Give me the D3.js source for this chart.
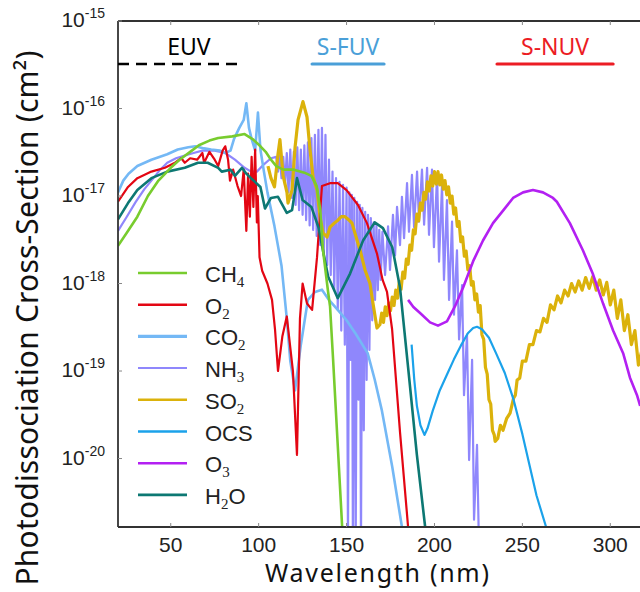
<!DOCTYPE html>
<html>
<head>
<meta charset="utf-8">
<script src="https://cdn.jsdelivr.net/npm/d3@7"></script>
<style>
  body { margin: 0; background: #fff; }
  svg { display: block; }
</style>
</head>
<body>
<svg id="chart" width="640" height="592"></svg>
<script>
// wavelength (nm), cross-section (cm^2)
const ch4 = [[20,2.7e-18],[25,3.8e-18],[31,5.8e-18],[37,1.0e-17],[43,1.5e-17],[50,2.1e-17],[55,2.6e-17],[62,3.3e-17],[66,3.8e-17],[72,4.3e-17],[77,4.6e-17],[85,4.8e-17],[92,5.1e-17],[97,4.4e-17],[101,3.7e-17],[104,3.2e-17],[107,2.6e-17],[110,2.2e-17],[114,2.0e-17],[120,2.0e-17],[126,1.85e-17],[130,1.7e-17],[133,1.3e-17],[135,7e-18],[136.6,2.4e-18],[139.5,8e-19],[140.6,5.5e-19],[142.3,1.4e-19],[145,1.4e-20],[147.5,1.65e-21],[148,1e-21]];

const o2 = [[20,8.6e-18],[25.7,1.27e-17],[31,1.6e-17],[39,1.9e-17],[46.7,2.1e-17],[52.4,2.4e-17],[56,2.7e-17],[58,2.4e-17],[61,2.7e-17],[65,2.6e-17],[68,3.1e-17],[69,2.4e-17],[72,3.2e-17],[75,2.6e-17],[77,2.2e-17],[79.5,3.3e-17],[81,3.7e-17],[82.6,2.6e-17],[83.7,1.5e-17],[85.5,2.0e-17],[88,1.3e-17],[90,1.0e-17],[91.5,2.0e-17],[93,4e-18],[94,1.8e-17],[95,5.8e-18],[96,2.8e-17],[97,7.5e-18],[98,3.4e-17],[99,5e-18],[99.5,1e-17],[100.5,2e-18],[102,1.4e-18],[105,1.0e-18],[107.6,6.5e-19],[109.3,3e-19],[111,1e-19],[113.5,2.5e-19],[116,4.2e-19],[119.5,1e-19],[121.8,1.1e-20],[123.5,4e-19],[125,1e-18],[127.5,5.9e-19],[130.4,5e-19],[133.2,2e-18],[136,1.3e-17],[140.6,1.4e-17],[145,1.4e-17],[150,1.17e-17],[156.5,7.9e-18],[161.6,4.9e-18],[167.3,2.2e-18],[170.5,1.1e-18],[173,8e-19],[175.9,3e-19],[180.4,2e-20],[185,1.65e-21],[185.5,1e-21]];

const co2 = [[20,1.1e-17],[23,1.5e-17],[26,1.8e-17],[31,2.2e-17],[39,2.6e-17],[48,3e-17],[54,3.4e-17],[60,3.6e-17],[64,3.7e-17],[69,3.5e-17],[73,3.4e-17],[78,3.3e-17],[81,3.1e-17],[84,3.3e-17],[86,4.5e-17],[89,6e-17],[91.5,7.4e-17],[93,1.15e-16],[94.5,6e-17],[96,4.5e-17],[98,3.3e-17],[99.6,9e-17],[101,3.4e-17],[103,1.9e-17],[105,1.1e-17],[109,4.5e-18],[113,1.6e-18],[116,4e-19],[118,1.3e-19],[120.7,6e-20],[124,2e-19],[128,6.5e-19],[132,8e-19],[136,8.5e-19],[140,6.5e-19],[145,5e-19],[150,3.8e-19],[155,2.7e-19],[162,1.6e-19],[166,8e-20],[170,3.6e-20],[176,8e-21],[181.5,1.65e-21],[182,1e-21]];

const nh3 = [[20,4e-18],[25,5.8e-18],[30,8.5e-18],[35,1.2e-17],[39,1.5e-17],[44,2e-17],[48,2.4e-17],[53,2.7e-17],[58,2.9e-17],[63,3.1e-17],[68,3.3e-17],[75,3.3e-17],[81,3.1e-17],[86.5,2.6e-17],[92,2.1e-17],[95.7,1.9e-17],[99,1.9e-17],[103,2.3e-17],[107,2.7e-17],[110,2.8e-17],
  [111,1.9e-17],[112,2.9e-17],[113,1.6e-17],[114,2.8e-17],[115,1.34e-17],[116,3.1e-17],[117,1.1e-17],[118,3.4e-17],[119,9.5e-18],[120,3.2e-17],[121,7.9e-18],[122,3.6e-17],[123,6.9e-18],[124,3.4e-17],[125,6.1e-18],[126,3.8e-17],[127,5.3e-18],[128,4.1e-17],[129,4.6e-18],[130,4.6e-17],[131,4.1e-18],[132,5.0e-17],[133,3.5e-18],[134,5.7e-17],[135,2.75e-18],[136,6e-17],[137,2.1e-18],[138,5e-17],[139,1.63e-18],[140,2.6e-17],[141,1.25e-18],[142,1.9e-17],[143,8.4e-19],[144,1.6e-17],[145,5e-19],[146,1.45e-17],[147,2.9e-19],[148,1.34e-17],[149,2e-19],[150,1.25e-17],[150.8,1e-21],[151.6,1.1e-17],[152.4,1.34e-19],[153,1.03e-17],[153.6,1e-21],[154.4,9.5e-18],[155.2,1e-21],[156,8.6e-18],[156.8,4.7e-20],[157.5,7.9e-18],[158.2,1e-21],[159,7.3e-18],[159.8,2.1e-20],[160.6,6.6e-18],[161.4,7.9e-20],[162.2,6.1e-18],[163,1.74e-19],[163.8,5.6e-18],[164.6,3.8e-19],[165.4,5e-18],[166.2,6.5e-19],[167,4.6e-18],[167.8,8.4e-19],[168.6,4.1e-18],[169.4,1.1e-18],[170.4,3.9e-18],
  [171.9,1.25e-18],[173.6,4.5e-18],[174.7,1.43e-18],[176.4,6.1e-18],[177.6,2.1e-18],[178.7,7.5e-18],[180.4,2.75e-18],[181.5,9.8e-18],[182.7,3.3e-18],[184.4,1.4e-17],[185.5,3.9e-18],[187.2,1.74e-17],[188.4,4.4e-18],[190.1,1.9e-17],[191.2,5.1e-18],[192.9,2.0e-17],[194.1,4.7e-18],[195.8,2.1e-17],[196.9,3.6e-18],[198.6,2.0e-17],[199.7,2.6e-18],[201.5,1.74e-17],[202.6,1.78e-18],[204.3,1.34e-17],[205.4,1.1e-18],[207.1,9e-18],[208.3,6.5e-19],[210,5.1e-18],[211.1,4.4e-19],[212.8,2.4e-18],[214,2.3e-19],[215.7,9.6e-19],[216.8,5.3e-20],[218.5,2.6e-19],[219.7,9.6e-21],[221.4,1.34e-19],[222.5,2e-21],[224.2,1.43e-20],[225.3,1e-21]];

const so2 = [[105.3,2.2e-17],[107,1.6e-17],[109,1.27e-17],[111,3e-17],[112.1,4.4e-17],[113.9,1.7e-17],[116.1,1.1e-17],[116.7,8.3e-18],[119,1.17e-17],[120.7,3.6e-17],[122.4,7.4e-17],[125.2,1.2e-16],[127.5,8e-17],[129.2,3.4e-17],[130.9,1.66e-17],[133.2,1.17e-17],[134.9,5.8e-18],[136.6,3.8e-18],[138.9,3.4e-18],[140.6,4.4e-18],[143,4.9e-18],[145.1,5.3e-18],[147,5.8e-18],[149.1,5.8e-18],[151,5.4e-18],[153.1,4.9e-18],[156,3.1e-18],[157.7,2.4e-18],[160.5,1.43e-18],[163.3,1e-18],[165,6e-19],[167.3,3.1e-19],[169,3.4e-19],
  [170,4.6e-19],[171,3.6e-19],[172,5.4e-19],[173,4.3e-19],[174,6e-19],[175,4.9e-19],[176,7e-19],[177,5.6e-19],[178,8.4e-19],[179,6.8e-19],[180,1.05e-18],[181,8.6e-19],[182,1.35e-18],[183,1.15e-18],[184,1.9e-18],[185,1.66e-18],[186,2.75e-18],[187,2.4e-18],[188,4.1e-18],[189,3.7e-18],[190,6.2e-18],[191,5.2e-18],[192,8.3e-18],[193,6.9e-18],[194,1.1e-17],[195,9.2e-18],[196,1.45e-17],[197,1.14e-17],[198,1.7e-17],[199,1.3e-17],[200,1.9e-17],[201,1.37e-17],[202,1.9e-17],[203,1.34e-17],[204,1.74e-17],[205,1.2e-17],[206,1.5e-17],[207,1.03e-17],[208,1.27e-17],[209,8.3e-18],[210,1e-17],[211,6.2e-18],[212,7.3e-18],[213,4.5e-18],[214,5.1e-18],[215,3e-18],[216,3.4e-18],[217,2.05e-18],[218,2.35e-18],[219,1.43e-18],[220,1.6e-18],[221,9.6e-19],[222,1.05e-18],[223,6.5e-19],[224,7.6e-19],[225,4.7e-19],[226,5.6e-19],[227,2.6e-19],[228,2.3e-19],[229,1.1e-19],[230,9.2e-20],[231,4.7e-20],[232,4.2e-20],[233,2.1e-20],[234,1.86e-20],[234.5,1.57e-20],
  [236,1.7e-20],[237.5,2.4e-20],[239,2.1e-20],[241,2.85e-20],[243,3.3e-20],[245,4.9e-20],[246,5.3e-20],[247,7.9e-20],[248.5,8.3e-20],[250,1.3e-19],[252,1.3e-19],[254,2e-19],[256,2e-19],[258,2.9e-19],[260,2.8e-19],[262,4e-19],[264,3.6e-19],[266,5.7e-19],[268,5e-19],[270,7.2e-19],[272,6e-19],[274,8.4e-19],[276,7.2e-19],[278,1e-18],[280,8e-19],[282,1.07e-18],[284,8.4e-19],[286,1.17e-18],[288,8.8e-19],[290,1.2e-18],[292,8.4e-19],[294,1.1e-18],[296,7.4e-19],[298,1.03e-18],[300,5.7e-19],[302,8.4e-19],[304,4e-19],[306,6.5e-19],[308,2.9e-19],[310,4.4e-19],[312,2e-19],[314,2.9e-19],[316,1.17e-19],[318,1.74e-19]];

const ocs = [[187,2e-19],[188.5,8e-20],[190,4e-20],[192,2.4e-20],[194.3,1.86e-20],[196,2.2e-20],[199,3.5e-20],[203,6e-20],[207,9e-20],[211,1.35e-19],[215,1.95e-19],[219,2.7e-19],[222,3.1e-19],[224.2,3.2e-19],[227,3e-19],[231,2.4e-19],[235,1.6e-19],[240,9.5e-20],[245,4.7e-20],[250,1.9e-20],[254,8.5e-21],[258,3.8e-21],[263.5,1.65e-21],[264,1e-21]];

const o3 = [[185,6.5e-19],[188,5.4e-19],[191.8,4.6e-19],[197.5,3.6e-19],[202,3.3e-19],[207.1,3.7e-19],[211.7,5.5e-19],[216.3,9e-19],[222,1.8e-18],[227.6,3.1e-18],[233.3,4.9e-18],[239,6.8e-18],[244.7,9.5e-18],[250.4,1.1e-17],[256,1.17e-17],[261.7,1.1e-17],[267.4,9.5e-18],[269.6,8.6e-18],[277,4.9e-18],[284.4,2.4e-18],[290,1.3e-18],[295.9,5.9e-19],[301.6,2.9e-19],[307.3,1.6e-19],[311.2,8.4e-20],[315.2,5.3e-20],[317,4e-20]];

const h2o = [[20,5.4e-18],[25.7,8.3e-18],[31,1.17e-17],[39,1.6e-17],[48,1.9e-17],[58,2.1e-17],[65.5,2.4e-17],[71,2.4e-17],[77,2.1e-17],[79,1.9e-17],[84,2.0e-17],[86.5,1.7e-17],[90.5,2.1e-17],[93,1.8e-17],[95.6,1.6e-17],[101,1.27e-17],[103.6,7.2e-18],[107,9.5e-18],[111,9.8e-18],[116,6.4e-18],[119,6.9e-18],[121.8,1.6e-17],[125,9e-18],[130,7.5e-18],[134,4.4e-18],[139.5,1.2e-18],[145,6.8e-19],[152,1.3e-18],[159.4,3.1e-18],[166,5e-18],[170.7,4.3e-18],[176,2.6e-18],[180.4,9e-19],[185,1.1e-19],[190,1.1e-20],[194.7,1.65e-21],[195,1e-21]];

// legend order, labels split into base / subscript / tail
const legendNames = [["CH", "4"], ["O", "2"], ["CO", "2"], ["NH", "3"], ["SO", "2"], ["OCS", ""], ["O", "3"], ["H", "2", "O"]];
const yTickExps = [-15, -16, -17, -18, -19, -20];
const xTicks = [50, 100, 150, 200, 250, 300];
// spectral regions marked along the top (nm)
const bandLabels = ["EUV", "S-FUV", "S-NUV"];
const bandFrom = [20, 130.4, 235.6];
const bandTo = [90.5, 171.3, 301.6];

const series = [
  { data: nh3, color: "#8f87fc", width: 2.2 },
  { data: so2, color: "#dbb20b", width: 3.2 },
  { data: co2, color: "#74b8f5", width: 2.6 },
  { data: o2, color: "#e30613", width: 2.2 },
  { data: ocs, color: "#1ba2ea", width: 2.2 },
  { data: o3, color: "#b320f2", width: 2.6 },
  { data: h2o, color: "#0d7873", width: 2.6 },
  { data: ch4, color: "#78cc2e", width: 2.6 },
];
const legendColors = ["#78cc2e", "#e30613", "#74b8f5", "#8f87fc", "#dbb20b", "#1ba2ea", "#b320f2", "#0d7873"];
const legendWidths = [2.6, 2.4, 3.2, 2, 2.4, 2.4, 2.6, 2.8];
const bandColors = ["#000", "#4a9fd8", "#ec1c24"];

const svg = d3.select("#chart");
const plot = { left: 118, right: 640, top: 21, bottom: 527 };

const x = d3.scaleLinear().domain([20, 316.9]).range([plot.left, plot.right]);
const y = d3.scaleLog().domain([1.65e-21, 1e-15]).range([plot.bottom, plot.top]);

svg.append("defs").append("clipPath").attr("id", "clip")
  .append("rect")
  .attr("x", plot.left).attr("y", plot.top)
  .attr("width", plot.right - plot.left).attr("height", plot.bottom - plot.top);

const line = d3.line().x((d) => x(d[0])).y((d) => y(Math.max(d[1], 1e-22)));

const curves = svg.append("g").attr("clip-path", "url(#clip)");
series.forEach((s) => {
  curves.append("path")
    .datum(s.data)
    .attr("fill", "none")
    .attr("stroke", s.color)
    .attr("stroke-width", s.width)
    .attr("stroke-linejoin", "round")
    .attr("d", line);
});

// axes frame (right side is cut off in the original)
const axisColor = "#333";
[[plot.left, plot.top, plot.right, plot.top],
 [plot.left, plot.bottom, plot.right, plot.bottom],
 [plot.left, plot.top, plot.left, plot.bottom]].forEach((c) => {
  svg.append("line").attr("x1", c[0]).attr("y1", c[1]).attr("x2", c[2]).attr("y2", c[3])
    .attr("stroke", axisColor).attr("stroke-width", 1.8);
});

// x ticks (inward, top and bottom) and labels
const xg = svg.append("g").attr("font-family", "'Liberation Sans', Arial, sans-serif").attr("font-size", 21).attr("fill", "#222");
xTicks.forEach((t) => {
  [plot.top, plot.bottom].forEach((yy) => {
    svg.append("line").attr("x1", x(t)).attr("x2", x(t))
      .attr("y1", yy).attr("y2", yy === plot.top ? yy + 4 : yy - 4)
      .attr("stroke", "#888").attr("stroke-width", 1);
  });
  xg.append("text").attr("x", x(t)).attr("y", 552).attr("text-anchor", "middle").text(t);
});

// y ticks and labels
const yg = svg.append("g").attr("font-family", "'Liberation Sans', Arial, sans-serif").attr("fill", "#222");
yTickExps.forEach((e) => {
  const yy = y(Math.pow(10, e));
  svg.append("line").attr("x1", plot.left).attr("x2", plot.left + 4).attr("y1", yy).attr("y2", yy)
    .attr("stroke", "#888").attr("stroke-width", 1);
  const t = yg.append("text").attr("x", 105).attr("y", yy + 6).attr("text-anchor", "end");
  t.append("tspan").attr("font-size", 21).text("10");
  t.append("tspan").attr("font-size", 14).attr("dy", -9).text(e);
});

// axis titles
svg.append("text")
  .attr("x", 377).attr("y", 582)
  .attr("text-anchor", "middle")
  .attr("font-family", "'Noto Sans', sans-serif")
  .attr("font-size", 25)
  .attr("textLength", 224)
  .attr("lengthAdjust", "spacing")
  .attr("fill", "#111")
  .text("Wavelength (nm)");

svg.append("text")
  .attr("transform", "translate(38,318) rotate(-90)")
  .attr("text-anchor", "middle")
  .attr("font-family", "'Noto Sans', sans-serif")
  .attr("font-size", 30)
  .attr("textLength", 535)
  .attr("lengthAdjust", "spacing")
  .attr("fill", "#111")
  .text("Photodissociation Cross-Section (cm²)");

// spectral band markers
bandLabels.forEach((label, i) => {
  const x1 = Math.max(x(bandFrom[i]), plot.left);
  const x2 = x(bandTo[i]);
  const dashed = i === 0;
  svg.append("line")
    .attr("x1", x1).attr("x2", x2).attr("y1", 64).attr("y2", 64)
    .attr("stroke", bandColors[i]).attr("stroke-width", dashed ? 2.6 : 3.2)
    .attr("stroke-linecap", dashed ? "butt" : "round")
    .attr("stroke-dasharray", dashed ? "11,7" : null);
  svg.append("text")
    .attr("x", (x1 + x2) / 2 + (dashed ? 9 : 0))
    .attr("y", 55)
    .attr("text-anchor", "middle")
    .attr("font-family", "'Noto Sans', sans-serif")
    .attr("font-size", 23)
    .attr("fill", bandColors[i])
    .text(label);
});

// legend
const legend = svg.append("g");
legendNames.forEach((n, i) => {
  const yy = 273 + i * 31.7;
  legend.append("line")
    .attr("x1", 138).attr("x2", 187).attr("y1", yy).attr("y2", yy)
    .attr("stroke", legendColors[i]).attr("stroke-width", legendWidths[i]);
  const t = legend.append("text")
    .attr("x", 205).attr("y", yy + 9)
    .attr("font-family", "'Liberation Sans', Arial, sans-serif")
    .attr("font-size", 22)
    .attr("fill", "#222");
  t.append("tspan").text(n[0]);
  if (n[1]) {
    t.append("tspan")
      .attr("font-family", "'Liberation Serif', 'DejaVu Serif', serif")
      .attr("font-size", 15)
      .attr("dy", 5)
      .text(n[1]);
  }
  if (n[2]) {
    t.append("tspan").attr("dy", -5).text(n[2]);
  }
});
</script>
</body>
</html>
